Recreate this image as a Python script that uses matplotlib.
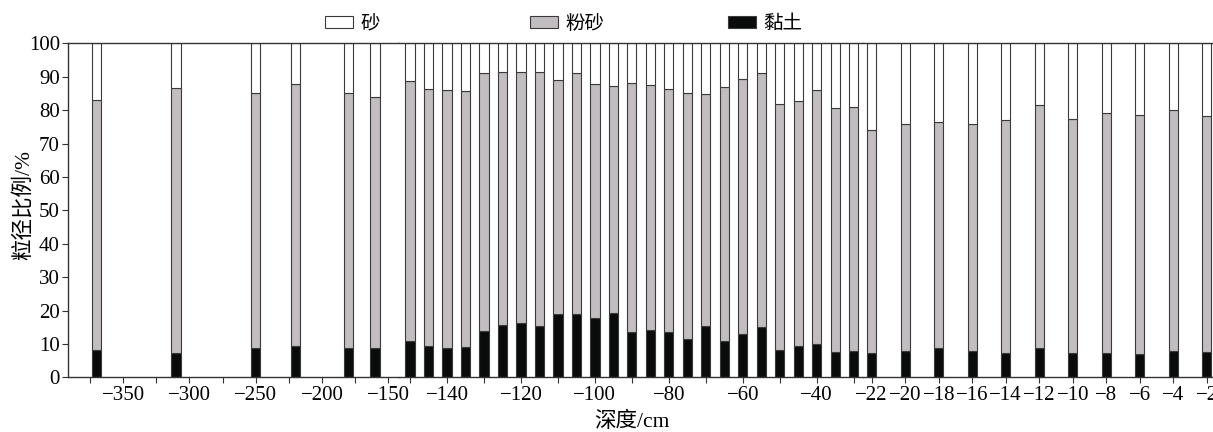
import matplotlib
matplotlib.use("Agg")
import matplotlib.pyplot as plt
from matplotlib.ticker import FixedLocator

plt.rcParams['font.family'] = ['Liberation Serif', 'Noto Sans CJK SC', 'DejaVu Sans']

# ---------------- data ----------------
depth = [-370, -310, -250, -220, -180, -160,
         -150, -145, -140, -135, -130, -125, -120, -115, -110, -105, -100,
         -95, -90, -85, -80, -75, -70, -65, -60, -55, -50, -45, -40, -35, -30,
         -22, -20, -18, -16, -14, -12, -10, -8, -6, -4, -2]
clay = [8.2, 7.4, 8.7, 9.5, 8.7, 8.9,
        11.0, 9.5, 8.9, 9.1, 13.9, 15.7, 16.4, 15.3, 19.1, 19.1, 17.9,
        19.3, 13.5, 14.3, 13.7, 11.4, 15.5, 11.0, 13.1, 15.2, 8.1, 9.5, 10.1, 7.5, 8.0,
        7.4, 7.9, 8.7, 7.9, 7.4, 8.9, 7.4, 7.4, 7.1, 8.0, 7.7]
silt = [74.8, 79.1, 76.5, 78.3, 76.3, 75.1,
        77.7, 76.9, 77.0, 76.7, 77.3, 75.8, 75.1, 76.2, 69.8, 71.9, 69.9,
        67.8, 74.5, 73.3, 72.7, 73.7, 69.4, 76.0, 76.2, 75.8, 73.6, 73.3, 75.9, 73.0, 72.8,
        66.7, 67.8, 67.6, 68.0, 69.7, 72.7, 69.8, 71.7, 71.3, 72.0, 70.4]
sand = [17.0, 13.5, 14.8, 12.2, 15.0, 16.0,
        11.3, 13.6, 14.1, 14.2, 8.8, 8.5, 8.5, 8.5, 11.1, 9.0, 12.2,
        12.9, 12.0, 12.4, 13.6, 14.9, 15.1, 13.0, 10.7, 9.0, 18.3, 17.2, 14.0, 19.5, 19.2,
        25.9, 24.3, 23.7, 24.1, 22.9, 18.4, 22.8, 20.9, 21.6, 20.0, 21.9]

labels = ['砂', '粉砂', '黏土']
yticks = [0, 10, 20, 30, 40, 50, 60, 70, 80, 90, 100]
seg1_major = [-350, -300, -250, -200, -150]
seg1_minor = [-375, -325, -275, -225, -175]
seg2_major = [-140, -120, -100, -80, -60, -40]
seg2_minor = [-150, -130, -110, -90, -70, -50, -30]
seg3_major = [-22, -20, -18, -16, -14, -12, -10, -8, -6, -4, -2]

# ---------------- layout ----------------
W, H = 1213, 432
fig = plt.figure(figsize=(W / 100, H / 100), dpi=100)

# (xmin, xmax, left_px, right_px, data range) for the three pieces of the depth axis
segments = [(-391.3, -141.9, 68.3, 399.0, (-400, -155)),
            (-152.98, -27.61, 399.0, 862.5, (-155, -25)),
            (-22.55, -0.615, 862.5, 1230.0, (-25, 0))]
top_px, bot_px = 43.3, 377.3
bar_px = 9.3

c_sand, c_silt, c_clay = '#ffffff', '#c1bdc1', '#0a0c0c'
edge = '#3a3a3a'
spine_c = '#333333'
tick_fs = 15

axes = []
handles = None
for i, (x0, x1, l, r, (lo, hi)) in enumerate(segments):
    ax = fig.add_axes([l / W, 1 - bot_px / H, (r - l) / W, (bot_px - top_px) / H])
    axes.append(ax)
    idx = [k for k, d in enumerate(depth) if lo <= d <= hi]
    xs = [depth[k] for k in idx]
    cl = [clay[k] for k in idx]
    si = [silt[k] for k in idx]
    sa = [sand[k] for k in idx]
    width = bar_px * (x1 - x0) / (r - l)
    b1 = ax.bar(xs, cl, width, color=c_clay, edgecolor=edge, linewidth=0.8)
    b2 = ax.bar(xs, si, width, bottom=cl, color=c_silt, edgecolor=edge, linewidth=0.8)
    bott = [a + b for a, b in zip(cl, si)]
    b3 = ax.bar(xs, sa, width, bottom=bott, color=c_sand, edgecolor=edge, linewidth=0.8)
    if handles is None:
        handles = [b3, b2, b1]
    ax.set_xlim(x0, x1)
    ax.set_ylim(0, 100)
    for s in ax.spines.values():
        s.set_color(spine_c)
        s.set_linewidth(1.0)
    ax.spines['right'].set_visible(False)
    if i > 0:
        ax.spines['left'].set_visible(False)
        ax.set_yticks([])
    else:
        ax.set_yticks(yticks)
        ax.tick_params(axis='y', direction='out', length=4.5, width=0.8,
                       color=spine_c, labelsize=tick_fs, pad=1.5)
    ax.tick_params(axis='x', which='both', direction='out', length=4.5, width=0.8,
                   color=spine_c, labelsize=tick_fs, pad=2)

axes[0].xaxis.set_major_locator(FixedLocator(seg1_major))
axes[0].xaxis.set_minor_locator(FixedLocator(seg1_minor))
axes[1].xaxis.set_major_locator(FixedLocator(seg2_major))
axes[1].xaxis.set_minor_locator(FixedLocator(seg2_minor))
axes[2].xaxis.set_major_locator(FixedLocator(seg3_major))
axes[2].xaxis.set_minor_locator(FixedLocator([]))

fig.text(23 / W, 1 - 205 / H, '粒径比例/%', fontsize=15.5, rotation=90,
         ha='center', va='center')
fig.text(632 / W, 1 - 422 / H, '深度/cm', fontsize=15.5, ha='center', va='center')

# legend: three entries along the top
leg_x = [325, 530, 728]
for h, lab, x in zip(handles, labels, leg_x):
    fig.legend([h], [lab], loc='center left', bbox_to_anchor=(x / W, 1 - 24 / H),
               frameon=False, fontsize=14, handlelength=1.45, handleheight=0.62,
               handletextpad=0.36, borderpad=0, borderaxespad=0)

fig.savefig('out.png', dpi=100)
